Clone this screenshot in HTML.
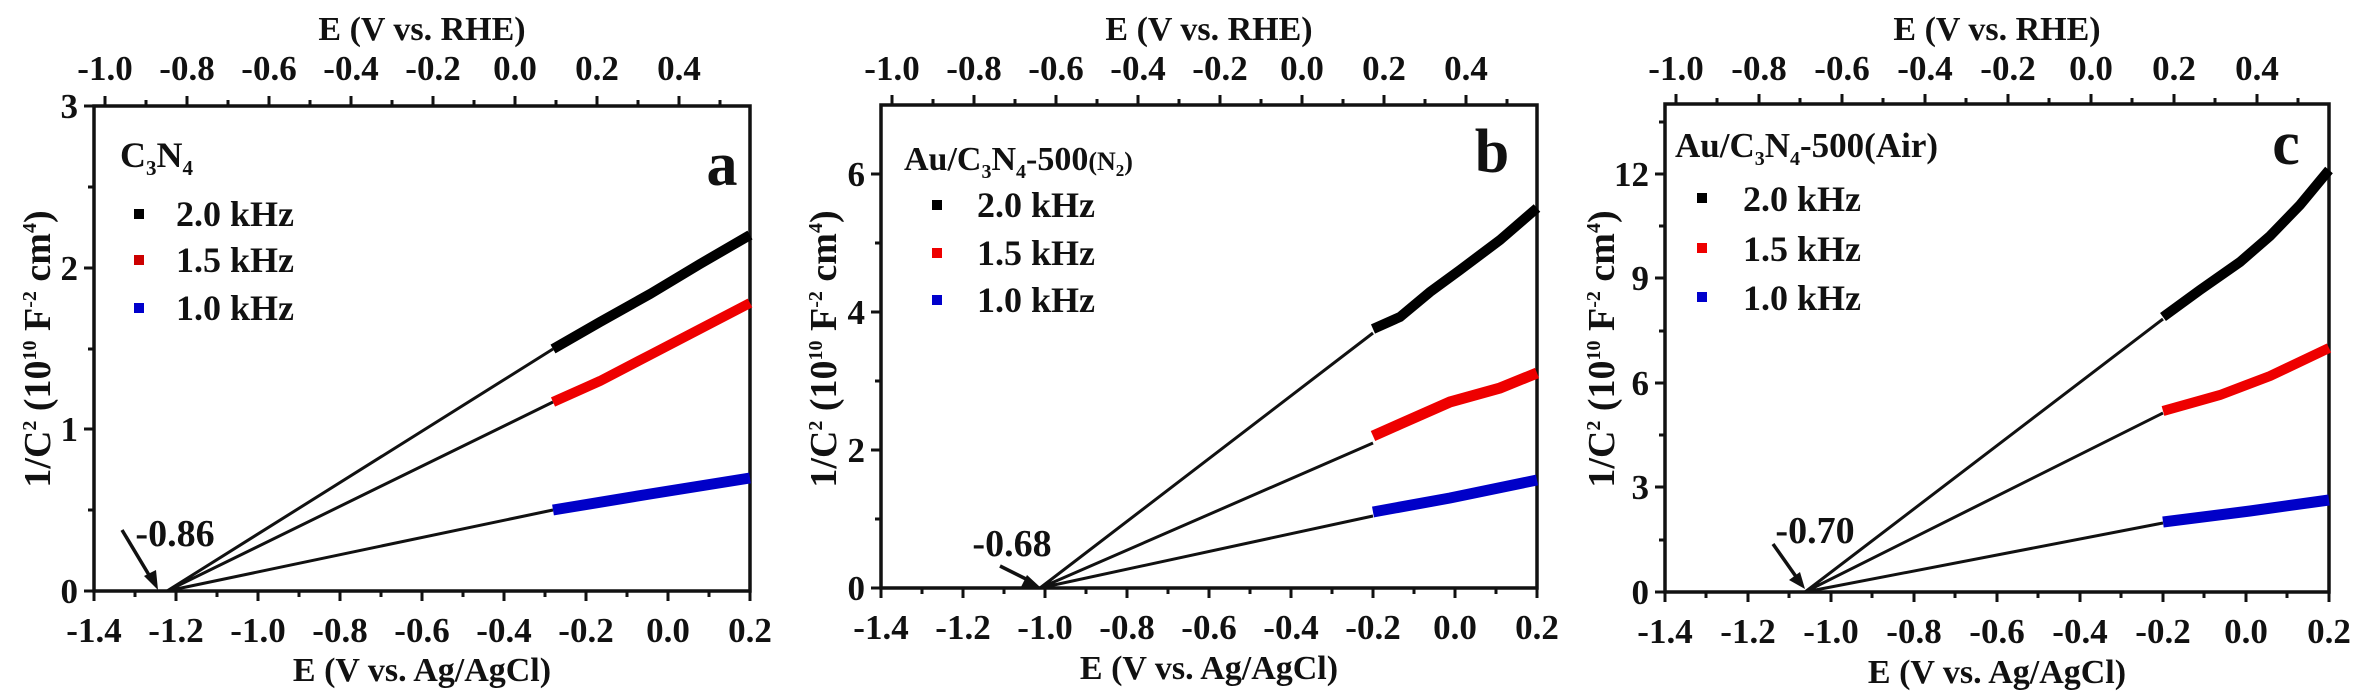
<!DOCTYPE html>
<html><head><meta charset="utf-8"><style>
html,body{margin:0;padding:0;background:#fff;}
svg{display:block;}
text{font-family:"Liberation Serif",serif;font-weight:bold;fill:#111;}
.t{font-size:35px;text-anchor:middle;}
.y{font-size:35px;text-anchor:end;}
.ti{font-size:34px;text-anchor:middle;}
.yt{font-size:38px;text-anchor:middle;}
.lg{font-size:36px;}
.ax{fill:none;stroke:#111;stroke-width:3.5;}
.tk{fill:none;stroke:#111;stroke-width:3;}
.fl{stroke:#111;stroke-width:3;}
</style></head><body>
<svg width="2363" height="691" viewBox="0 0 2363 691" xmlns="http://www.w3.org/2000/svg">
<!-- ========== Panel a ========== -->
<rect class="ax" x="94" y="106" width="656" height="485"/>
<path class="tk" d="M94 591V601M176 591V601M258 591V601M340 591V601M422 591V601M504 591V601M586 591V601M668 591V601M750 591V601
M135 591V597M217 591V597M299 591V597M381 591V597M463 591V597M545 591V597M627 591V597M709 591V597
M105 106V96M187 106V96M269 106V96M351 106V96M433 106V96M515 106V96M597 106V96M679 106V96
M146 106V100M228 106V100M310 106V100M392 106V100M474 106V100M556 106V100M638 106V100M720 106V100
M94 591H84M94 429H84M94 268H84M94 106H84M94 510H88M94 349H88M94 187H88"/>
<g class="t"><text x="94" y="642">-1.4</text><text x="176" y="642">-1.2</text><text x="258" y="642">-1.0</text><text x="340" y="642">-0.8</text><text x="422" y="642">-0.6</text><text x="504" y="642">-0.4</text><text x="586" y="642">-0.2</text><text x="668" y="642">0.0</text><text x="750" y="642">0.2</text></g>
<g class="t"><text x="105" y="80">-1.0</text><text x="187" y="80">-0.8</text><text x="269" y="80">-0.6</text><text x="351" y="80">-0.4</text><text x="433" y="80">-0.2</text><text x="515" y="80">0.0</text><text x="597" y="80">0.2</text><text x="679" y="80">0.4</text></g>
<g class="y"><text x="78" y="603">0</text><text x="78" y="441">1</text><text x="78" y="280">2</text><text x="78" y="118">3</text></g>
<text class="ti" x="422" y="681">E (V vs. Ag/AgCl)</text>
<text class="ti" x="422" y="40">E (V vs. RHE)</text>
<text class="yt" transform="translate(50,349) rotate(-90)">1/C<tspan font-size="20" dy="-14">2</tspan><tspan dy="14"> (10</tspan><tspan font-size="20" dy="-14">10</tspan><tspan dy="14"> F</tspan><tspan font-size="20" dy="-14">-2</tspan><tspan dy="14"> cm</tspan><tspan font-size="20" dy="-14">4</tspan><tspan dy="14">)</tspan></text>
<text x="120" y="167" style="font-size:36px">C<tspan font-size="21" dy="8">3</tspan><tspan dy="-8">N</tspan><tspan font-size="21" dy="8">4</tspan></text>
<rect x="134" y="209" width="10" height="10" fill="#000"/><text class="lg" x="176" y="226">2.0 kHz</text>
<rect x="134" y="255" width="10" height="10" fill="#c00"/><text class="lg" x="176" y="272">1.5 kHz</text>
<rect x="134" y="303" width="10" height="10" fill="#00c"/><text class="lg" x="176" y="320">1.0 kHz</text>
<text x="722" y="185" style="font-size:62px;text-anchor:middle">a</text>
<path class="fl" d="M167 591L553 349M167 591L553 402M167 591L553 510"/>
<path d="M553 349L600 322L650 294L700 264L750 235" stroke="#000" stroke-width="10" fill="none"/>
<path d="M553 402L600 381L650 355L700 329L750 303" stroke="#e00" stroke-width="10" fill="none"/>
<path d="M553 510L650 494L750 478" stroke="#0000c8" stroke-width="11" fill="none"/>
<path d="M122 530L152 580" stroke="#111" stroke-width="3.5"/><path d="M158 590L144 576L156 570Z" fill="#111"/>
<text x="175" y="546" style="font-size:38px;text-anchor:middle">-0.86</text>

<!-- ========== Panel b ========== -->
<rect class="ax" x="881" y="105" width="656" height="483"/>
<path class="tk" d="M881 588V598M963 588V598M1045 588V598M1127 588V598M1209 588V598M1291 588V598M1373 588V598M1455 588V598M1537 588V598
M922 588V594M1004 588V594M1086 588V594M1168 588V594M1250 588V594M1332 588V594M1414 588V594M1496 588V594
M892 105V95M974 105V95M1056 105V95M1138 105V95M1220 105V95M1302 105V95M1384 105V95M1466 105V95
M933 105V99M1015 105V99M1097 105V99M1179 105V99M1261 105V99M1343 105V99M1425 105V99M1507 105V99
M881 588H871M881 450H871M881 312H871M881 174H871M881 519H875M881 381H875M881 243H875"/>
<g class="t"><text x="881" y="639">-1.4</text><text x="963" y="639">-1.2</text><text x="1045" y="639">-1.0</text><text x="1127" y="639">-0.8</text><text x="1209" y="639">-0.6</text><text x="1291" y="639">-0.4</text><text x="1373" y="639">-0.2</text><text x="1455" y="639">0.0</text><text x="1537" y="639">0.2</text></g>
<g class="t"><text x="892" y="80">-1.0</text><text x="974" y="80">-0.8</text><text x="1056" y="80">-0.6</text><text x="1138" y="80">-0.4</text><text x="1220" y="80">-0.2</text><text x="1302" y="80">0.0</text><text x="1384" y="80">0.2</text><text x="1466" y="80">0.4</text></g>
<g class="y"><text x="865" y="600">0</text><text x="865" y="462">2</text><text x="865" y="324">4</text><text x="865" y="186">6</text></g>
<text class="ti" x="1209" y="679">E (V vs. Ag/AgCl)</text>
<text class="ti" x="1209" y="40">E (V vs. RHE)</text>
<text class="yt" transform="translate(836,349) rotate(-90)">1/C<tspan font-size="20" dy="-14">2</tspan><tspan dy="14"> (10</tspan><tspan font-size="20" dy="-14">10</tspan><tspan dy="14"> F</tspan><tspan font-size="20" dy="-14">-2</tspan><tspan dy="14"> cm</tspan><tspan font-size="20" dy="-14">4</tspan><tspan dy="14">)</tspan></text>
<text x="904" y="170" style="font-size:34px">Au/C<tspan font-size="20" dy="8">3</tspan><tspan dy="-8">N</tspan><tspan font-size="20" dy="8">4</tspan><tspan dy="-8">-500</tspan><tspan font-size="26">(N</tspan><tspan font-size="17" dy="6">2</tspan><tspan font-size="26" dy="-6">)</tspan></text>
<rect x="932" y="200" width="10" height="10" fill="#000"/><text class="lg" x="977" y="217">2.0 kHz</text>
<rect x="932" y="248" width="10" height="10" fill="#e00"/><text class="lg" x="977" y="265">1.5 kHz</text>
<rect x="932" y="295" width="10" height="10" fill="#00c"/><text class="lg" x="977" y="312">1.0 kHz</text>
<text x="1492" y="172" style="font-size:62px;text-anchor:middle">b</text>
<path class="fl" d="M1040 588L1373 333M1040 588L1373 443M1040 588L1373 516"/>
<path d="M1373 329L1400 317L1430 292L1460 270L1500 240L1537 208" stroke="#000" stroke-width="10" fill="none"/>
<path d="M1373 436L1400 424L1450 402L1500 388L1537 373" stroke="#e00" stroke-width="11" fill="none"/>
<path d="M1373 512L1450 498L1537 480" stroke="#0000c8" stroke-width="11" fill="none"/>
<path d="M1000 566L1028 580" stroke="#111" stroke-width="3.5"/><path d="M1040 587L1021 587L1027 575Z" fill="#111"/>
<text x="1012" y="556" style="font-size:38px;text-anchor:middle">-0.68</text>

<!-- ========== Panel c ========== -->
<rect class="ax" x="1665" y="104" width="664" height="488"/>
<path class="tk" d="M1665 592V602M1748 592V602M1831 592V602M1914 592V602M1997 592V602M2080 592V602M2163 592V602M2246 592V602M2329 592V602
M1706 592V598M1789 592V598M1872 592V598M1955 592V598M2038 592V598M2121 592V598M2204 592V598M2287 592V598
M1676 104V94M1759 104V94M1842 104V94M1925 104V94M2008 104V94M2091 104V94M2174 104V94M2257 104V94
M1717 104V98M1800 104V98M1883 104V98M1966 104V98M2049 104V98M2132 104V98M2215 104V98M2298 104V98
M1665 592H1655M1665 487H1655M1665 383H1655M1665 278H1655M1665 174H1655M1665 540H1659M1665 435H1659M1665 331H1659M1665 226H1659M1665 122H1659"/>
<g class="t"><text x="1665" y="643">-1.4</text><text x="1748" y="643">-1.2</text><text x="1831" y="643">-1.0</text><text x="1914" y="643">-0.8</text><text x="1997" y="643">-0.6</text><text x="2080" y="643">-0.4</text><text x="2163" y="643">-0.2</text><text x="2246" y="643">0.0</text><text x="2329" y="643">0.2</text></g>
<g class="t"><text x="1676" y="80">-1.0</text><text x="1759" y="80">-0.8</text><text x="1842" y="80">-0.6</text><text x="1925" y="80">-0.4</text><text x="2008" y="80">-0.2</text><text x="2091" y="80">0.0</text><text x="2174" y="80">0.2</text><text x="2257" y="80">0.4</text></g>
<g class="y"><text x="1649" y="604">0</text><text x="1649" y="499">3</text><text x="1649" y="395">6</text><text x="1649" y="290">9</text><text x="1649" y="186">12</text></g>
<text class="ti" x="1997" y="683">E (V vs. Ag/AgCl)</text>
<text class="ti" x="1997" y="40">E (V vs. RHE)</text>
<text class="yt" transform="translate(1614,349) rotate(-90)">1/C<tspan font-size="20" dy="-14">2</tspan><tspan dy="14"> (10</tspan><tspan font-size="20" dy="-14">10</tspan><tspan dy="14"> F</tspan><tspan font-size="20" dy="-14">-2</tspan><tspan dy="14"> cm</tspan><tspan font-size="20" dy="-14">4</tspan><tspan dy="14">)</tspan></text>
<text x="1675" y="157" style="font-size:35px">Au/C<tspan font-size="20" dy="8">3</tspan><tspan dy="-8">N</tspan><tspan font-size="20" dy="8">4</tspan><tspan dy="-8">-500(Air)</tspan></text>
<rect x="1697" y="193" width="10" height="10" fill="#000"/><text class="lg" x="1743" y="211">2.0 kHz</text>
<rect x="1697" y="243" width="10" height="10" fill="#e00"/><text class="lg" x="1743" y="261">1.5 kHz</text>
<rect x="1697" y="292" width="10" height="10" fill="#00c"/><text class="lg" x="1743" y="310">1.0 kHz</text>
<text x="2286" y="164" style="font-size:62px;text-anchor:middle">c</text>
<path class="fl" d="M1805 592L2163 319M1805 592L2163 413M1805 592L2163 523"/>
<path d="M2163 317L2200 290L2240 262L2270 236L2300 205L2329 170" stroke="#000" stroke-width="10" fill="none"/>
<path d="M2163 411L2220 395L2270 376L2329 348" stroke="#e00" stroke-width="10" fill="none"/>
<path d="M2163 522L2250 511L2329 500" stroke="#0000c8" stroke-width="11" fill="none"/>
<path d="M1773 544L1797 578" stroke="#111" stroke-width="3.5"/><path d="M1805 589L1789 580L1800 572Z" fill="#111"/>
<text x="1815" y="543" style="font-size:38px;text-anchor:middle">-0.70</text>
</svg>
</body></html>
